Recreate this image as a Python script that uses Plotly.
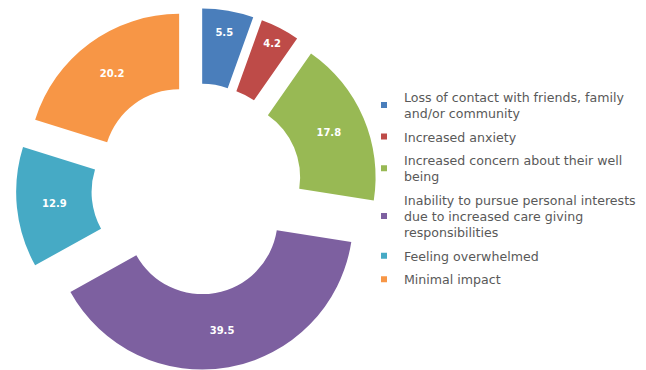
import plotly.graph_objects as go

# Share of respondents (%) by type of impact
labels = [
    "Loss of contact with friends, family<br>and/or community",
    "Increased anxiety",
    "Increased concern about their well<br>being",
    "Inability to pursue personal interests<br>due to increased care giving<br>responsibilities",
    "Feeling overwhelmed",
    "Minimal impact",
]
values = [5.5, 4.2, 17.8, 39.5, 12.9, 20.2]
colors = ["#4A7EBB", "#BE4B48", "#98B954", "#7D60A0", "#46AAC5", "#F79646"]

fig = go.Figure()

fig.add_trace(go.Pie(
    labels=labels,
    values=values,
    sort=False,
    direction="clockwise",
    rotation=0,
    hole=0.5,
    pull=[0.2] * len(values),
    marker=dict(colors=colors, line=dict(color="white", width=0)),
    texttemplate="%{value}",
    textposition="inside",
    insidetextorientation="horizontal",
    textfont=dict(family="DejaVu Sans", size=10, color="white", weight="bold"),
    showlegend=False,
    domain=dict(x=[16 / 646, 378 / 646], y=[0, 362 / 370]),
))

# Legend entries with small square swatches, one group per category
for i, (lab, col) in enumerate(zip(labels, colors)):
    fig.add_trace(go.Scatter(
        x=[None], y=[None], mode="markers",
        marker=dict(symbol="square", size=6, color=col),
        name=lab, legendgroup=f"g{i}", showlegend=True,
    ))

fig.update_layout(
    width=646, height=370,
    margin=dict(l=0, r=0, t=0, b=0),
    paper_bgcolor="white",
    plot_bgcolor="white",
    xaxis=dict(visible=False),
    yaxis=dict(visible=False),
    legend=dict(
        x=364 / 646, y=0.778, xanchor="left", yanchor="top",
        font=dict(family="DejaVu Sans", size=12.6, color="#595959"),
        tracegroupgap=4,
        itemwidth=30,
        bgcolor="rgba(0,0,0,0)",
    ),
)

fig.write_html("out.html")
